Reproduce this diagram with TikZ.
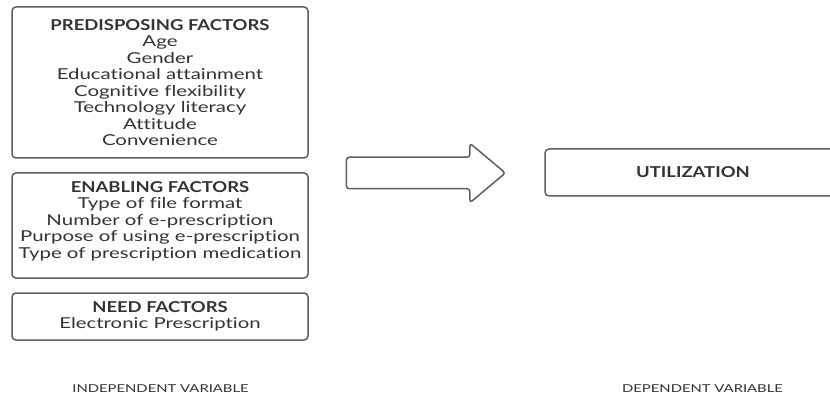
\documentclass[tikz,border=0pt]{standalone}
\usepackage{fontspec}
\setmainfont{Lato}[Ligatures=CommonOff,
  UprightFeatures={FakeStretch=1.36},
  BoldFeatures={FakeStretch=1.23}]
\usetikzlibrary{shapes.arrows}

\definecolor{boxline}{HTML}{5E5E5E}
\definecolor{boxtext}{HTML}{333333}

\tikzset{
  factorbox/.style={draw=boxline, line width=1.5pt, rounded corners=4pt,
    align=center, text=boxtext, inner sep=0pt, minimum width=296pt,
    font=\fontsize{15}{16.5}\selectfont},
  varlabel/.style={text=boxtext, font=\fontsize{10.9}{12}\selectfont}
}

\begin{document}
\begin{tikzpicture}[x=1pt, y=-1pt]
  % Page frame, same size as the reference
  \useasboundingbox (0,0) rectangle (830,398);
  \clip (0,0) rectangle (830,398);

  % Independent variable boxes
  \node[factorbox, minimum height=151pt] (predisposing) at (160,82.5)
    {\textbf{PREDISPOSING FACTORS}\\Age\\Gender\\Educational attainment\\
     Cognitive flexibility\\Technology literacy\\Attitude\\Convenience};
  \node[factorbox, minimum height=105pt] (enabling) at (160,225.5)
    {\textbf{ENABLING FACTORS}\\Type of file format\\Number of e-prescription\\
     Purpose of using e-prescription\\Type of prescription medication\\[-5.5pt]};
  \node[factorbox, minimum height=47pt] (need) at (160,316.5)
    {\textbf{NEED FACTORS}\\Electronic Prescription};

  % Block arrow towards the outcome
  \node[single arrow, draw=boxline, line width=1.5pt, rounded corners=3pt,
    inner xsep=0pt, inner ysep=15pt, minimum height=159pt,
    single arrow head extend=14pt, single arrow tip angle=80] (flow) at (416.5,173) {};

  % Dependent variable box (runs off the right edge)
  \node[factorbox, minimum height=47pt] (utilization) at (693,172.5)
    {\textbf{UTILIZATION}};

  % Column labels
  \node[varlabel] (indep) at (160.5,389) {INDEPENDENT VARIABLE};
  \node[varlabel] (dep) at (702.5,389) {DEPENDENT VARIABLE};
\end{tikzpicture}
\end{document}
